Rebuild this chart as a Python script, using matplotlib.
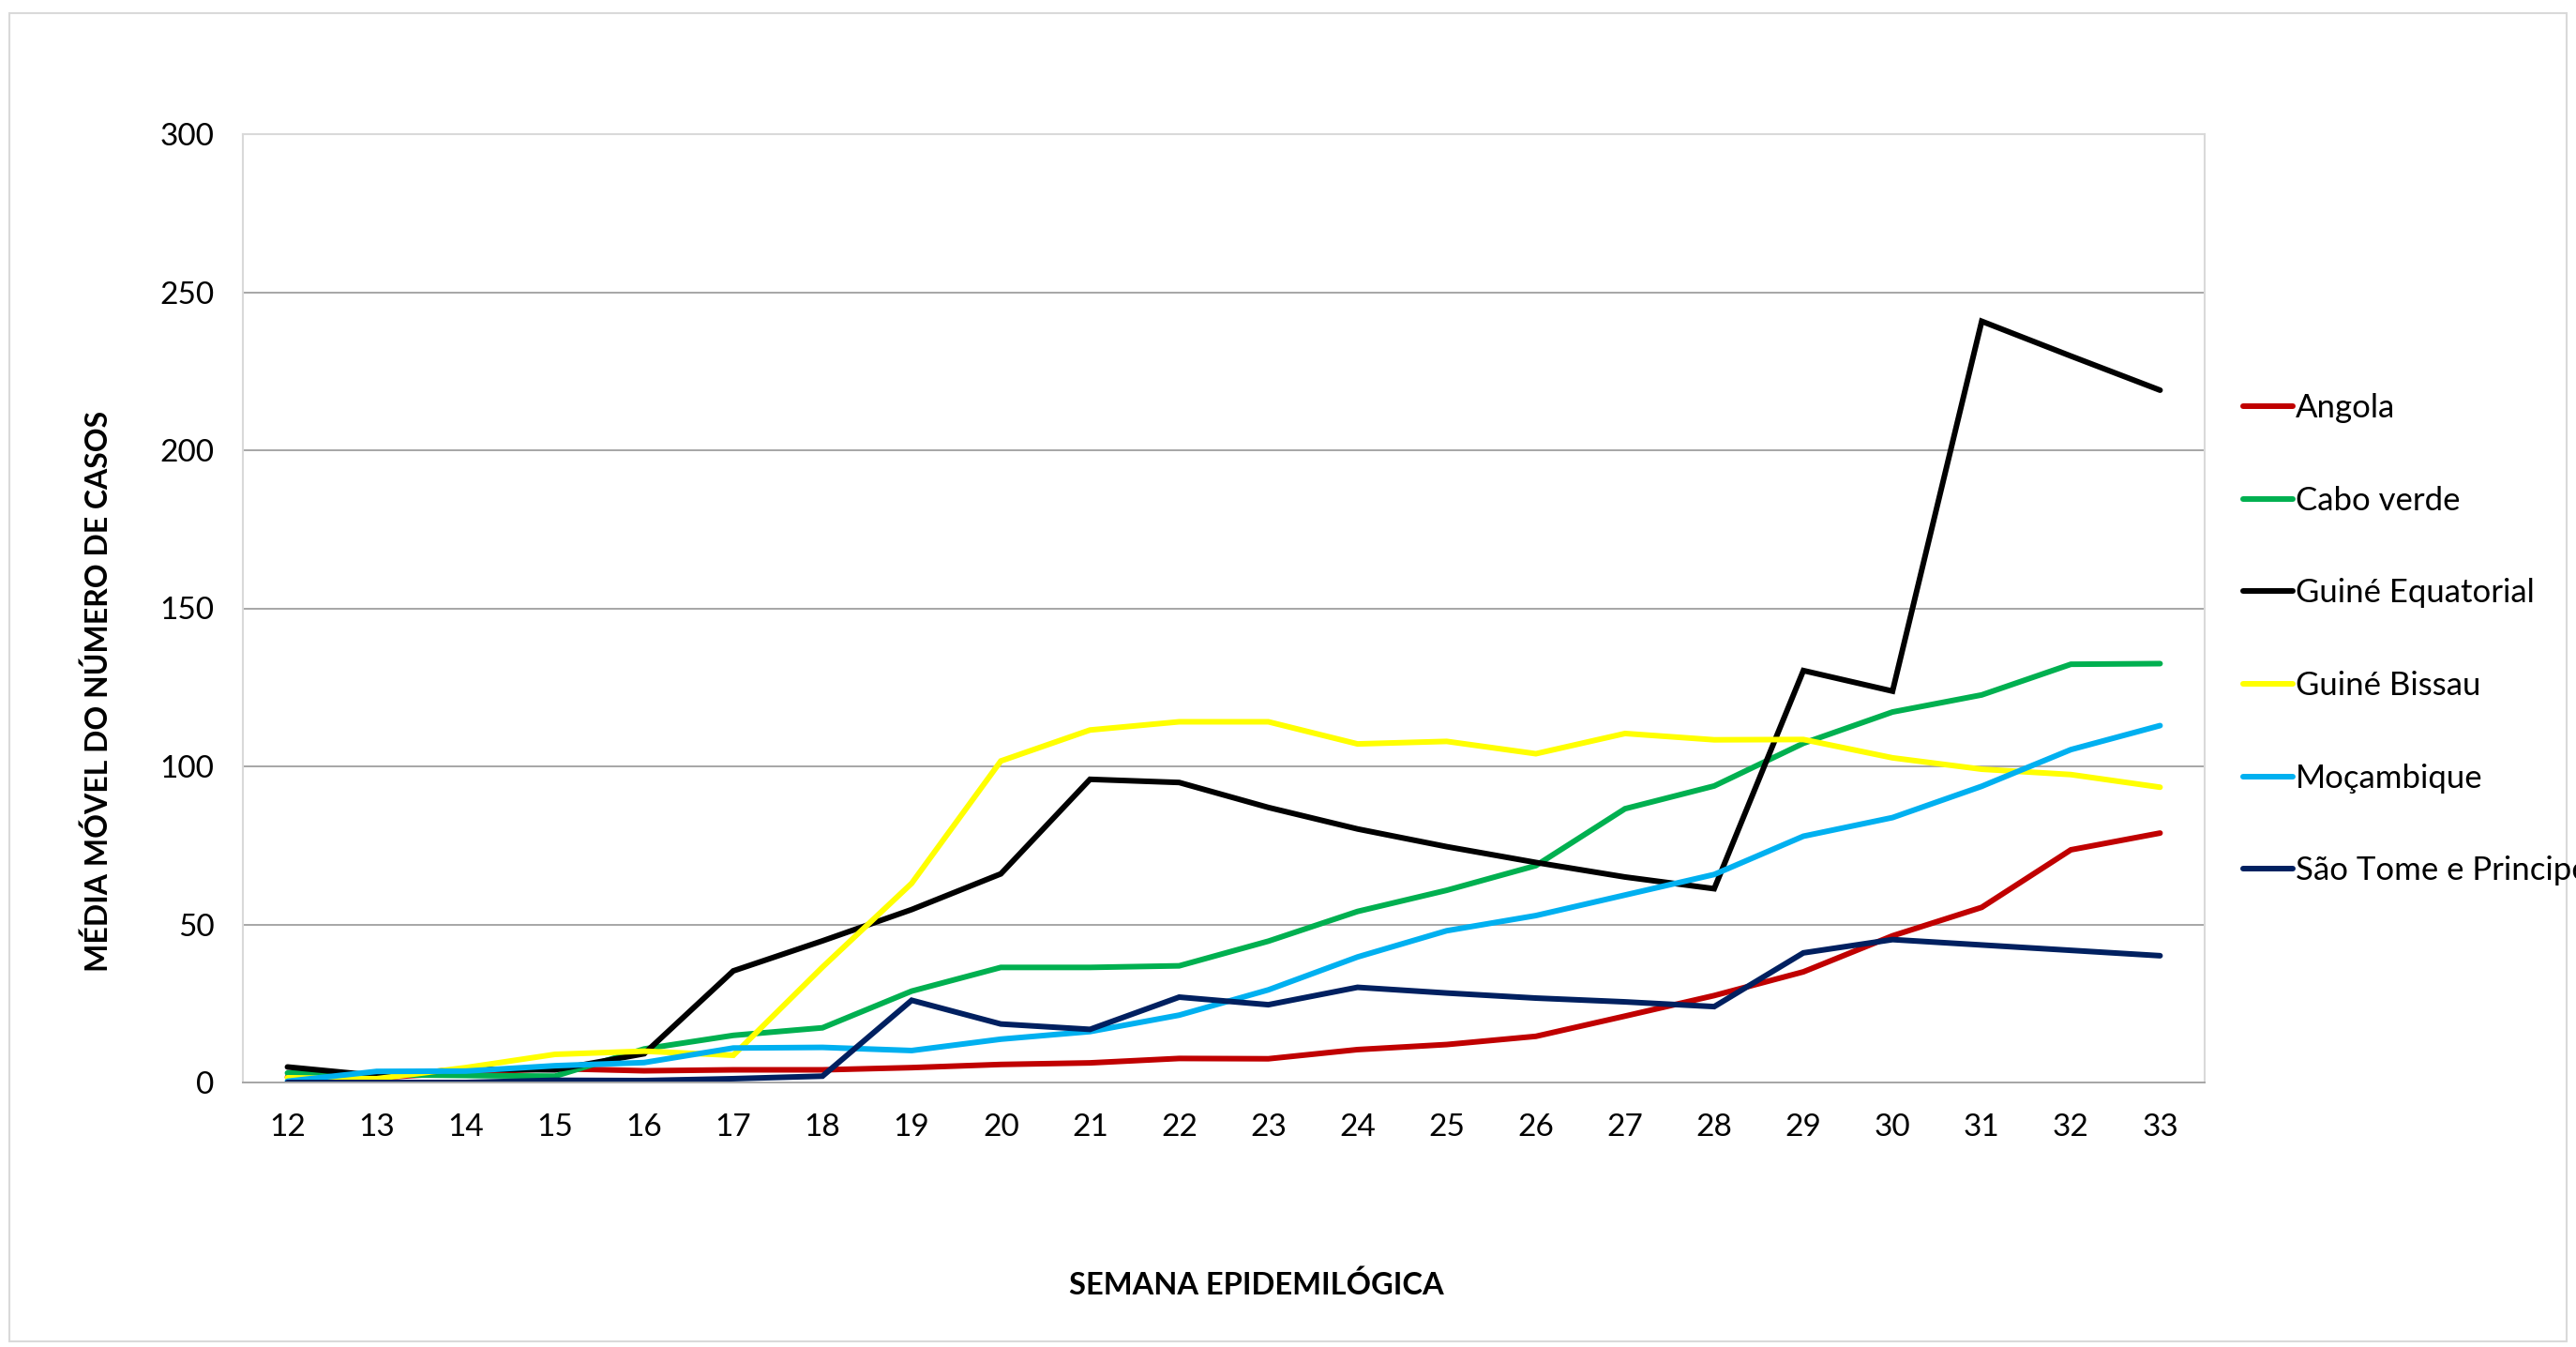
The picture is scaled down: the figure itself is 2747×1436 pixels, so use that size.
import matplotlib
matplotlib.use("Agg")
from matplotlib import pyplot as plt
from matplotlib.patches import Rectangle

# weekly moving average per country
weeks = list(range(12, 34))
angola = [1.7, 1.5, 3.2, 4.4, 3.7, 4.0, 4.0, 4.7, 5.7, 6.2, 7.6, 7.5, 10.4, 12.0, 14.6, 21.0, 27.5, 35.0, 46.4, 55.4, 73.6, 78.9]
cabo_verde = [3.0, 2.5, 2.2, 2.0, 10.6, 14.9, 17.3, 28.9, 36.4, 36.4, 36.9, 44.7, 54.1, 60.8, 68.6, 86.6, 93.8, 107.3, 117.2, 122.6, 132.3, 132.5]
guine_eq = [4.9, 2.2, 4.2, 4.0, 9.1, 35.3, 44.8, 54.7, 66.0, 95.9, 94.9, 87.0, 80.2, 74.6, 69.6, 65.0, 61.3, 130.3, 123.8, 240.8, 229.8, 219.0]
guine_bissau = [1.5, 1.2, 4.7, 8.9, 9.9, 8.6, 36.5, 63.0, 101.7, 111.5, 114.1, 114.1, 107.1, 107.9, 104.0, 110.4, 108.4, 108.5, 102.7, 99.1, 97.4, 93.4]
mocambique = [0.4, 3.5, 3.6, 5.3, 6.3, 10.9, 11.1, 10.1, 13.7, 16.1, 21.3, 29.3, 39.7, 48.0, 52.8, 59.3, 65.8, 77.9, 83.8, 93.7, 105.3, 112.9]
sao_tome = [0.0, 0.0, 0.0, 0.7, 0.6, 1.2, 2.0, 26.0, 18.5, 16.8, 27.0, 24.6, 30.1, 28.3, 26.7, 25.5, 24.0, 41.0, 45.2, 43.5, 41.8, 40.1]

series_names = ["Angola", "Cabo verde", "Guiné Equatorial", "Guiné Bissau", "Moçambique", "São Tome e Principe"]
series_values = [angola, cabo_verde, guine_eq, guine_bissau, mocambique, sao_tome]
series_colors = ["#C00000", "#00B050", "#000000", "#FFFF00", "#00B0F0", "#002060"]
y_ticks = [0, 50, 100, 150, 200, 250, 300]

W, H = 2747, 1436
DPI = 100
plt.rcParams['font.family'] = ['Lato', 'DejaVu Sans']

fig = plt.figure(figsize=(W / DPI, H / DPI), dpi=DPI)

# outer chart border
fig.patches.append(Rectangle((10 / W, 6 / H), (W - 20) / W, (H - 20) / H,
                             transform=fig.transFigure, fill=False,
                             edgecolor="#d9d9d9", linewidth=1.5))

left, right, top, bottom = 259, 2351, 143, 1154
ax = fig.add_axes([left / W, 1 - bottom / H, (right - left) / W, (bottom - top) / H])

for name, vals, col in zip(series_names, series_values, series_colors):
    ax.plot(weeks, vals, color=col, lw=4.3, label=name,
            solid_capstyle="round", solid_joinstyle="miter")

ax.set_xlim(11.5, 33.5)
ax.set_ylim(0, 300)
ax.set_xticks(weeks)
ax.set_yticks(y_ticks)
ax.tick_params(axis="both", length=0, labelsize=24)
ax.tick_params(axis="x", pad=24)
ax.tick_params(axis="y", pad=22)
ax.grid(axis="y", color="#a6a6a6", lw=1.4)
ax.set_axisbelow(True)
for s in ["left", "right", "top"]:
    ax.spines[s].set_color("#d9d9d9")
    ax.spines[s].set_linewidth(1.5)
ax.spines["bottom"].set_color("#a6a6a6")
ax.spines["bottom"].set_linewidth(1.4)

fig.text(105 / W, 1 - 737 / H, "MÉDIA MÓVEL DO NÚMERO DE CASOS", rotation=90,
         ha="center", va="center", fontsize=23, fontweight="bold")
fig.text(1340 / W, 1 - 1370 / H, "SEMANA EPIDEMILÓGICA",
         ha="center", va="center", fontsize=23.5, fontweight="bold")

# legend sits right of the plot; last label runs past the edge like the original
fig.legend(loc="upper left", bbox_to_anchor=(2392 / W, 1 - 419 / H),
           frameon=False, fontsize=25, handlelength=1.52, handletextpad=0.08,
           labelspacing=1.92, borderaxespad=0, borderpad=0)

fig.savefig("out.png", dpi=DPI)
